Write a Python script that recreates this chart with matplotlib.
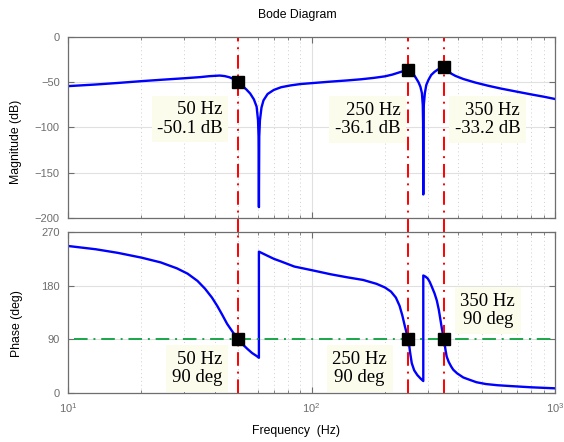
import matplotlib
matplotlib.use('Agg')
import matplotlib.pyplot as plt

plt.rcParams['font.family'] = ['Liberation Sans', 'DejaVu Sans']
plt.rcParams['mathtext.fontset'] = 'custom'
plt.rcParams['mathtext.rm'] = 'Liberation Sans'
plt.rcParams['mathtext.default'] = 'regular'

### magnitude curve
freq_mag = [10, 13, 16, 20, 25, 30, 35, 38, 42, 44, 46, 48, 50, 52, 54, 56, 58,
            59.5, 60.3, 60.6, 60.8, 61.0, 61.4, 62.3, 63.5, 66, 70, 75, 82, 90,
            100, 120, 140, 160, 180, 200, 215, 230, 240, 250, 256, 262, 268,
            275, 280, 284, 286.3, 287.2, 287.7, 288.2, 289.2, 292, 296, 302,
            310, 320, 330, 340, 350, 358, 366, 375, 390, 420, 470, 530, 600,
            700, 800, 900, 1000]
mag_db = [-54.3, -52.5, -50.8, -48.8, -47.0, -45.6, -44.3, -43.3, -42.6, -43.2,
          -44.5, -46.6, -50.1, -54, -58, -62.5, -69, -77, -92, -110, -188,
          -110, -92, -78, -70, -63, -58.5, -55.5, -53.5, -52, -51, -49.3,
          -48, -46.7, -45.2, -43.5, -41.5, -39, -37.5, -36.1, -38, -41, -45,
          -50, -55, -62, -75, -95, -174, -95, -75, -62, -53, -47.5, -42,
          -38.5, -36, -34.3, -33.2, -35, -38, -40.5, -43, -46.4, -50.3,
          -53.8, -57, -60.5, -63.5, -66, -68.5]

### phase curve
freq_ph = [10, 13, 16, 20, 24, 28, 31, 34, 36.5, 39, 41, 43, 45, 47.5, 50, 52,
           54.5, 57, 59.5, 60.8, 60.8, 63, 66, 70, 75, 85, 100, 120, 140, 163,
           185, 200, 212, 222, 230, 236, 242, 246, 250, 254, 258, 264, 272,
           280, 287.7, 287.7, 294, 300, 306, 312, 320, 327, 333, 338, 343,
           350, 355, 359, 366, 375, 382, 396, 420, 448, 476, 520, 580, 650,
           800, 1000]
phase_deg = [246.5, 241, 235, 227, 219, 209, 200, 188, 175, 160, 146, 131, 116,
             102, 90, 82, 74, 67, 62, 59, 237, 234, 230, 225, 220.5, 212, 206,
             199, 194, 189.5, 183, 177, 170, 160, 146, 130, 111, 100, 90, 68,
             50, 38, 30, 24.5, 20, 197, 195, 192, 186, 178, 167, 155, 140, 124,
             108, 90, 72, 61, 52, 44, 39, 33, 26, 21.8, 18, 15, 13, 11.7, 9.5,
             7.8]

### data tips
tip_freq = [50, 250, 350]
tip_mag = [-50.1, -36.1, -33.2]
tip_phase = [90, 90, 90]
mag_labels = ['50 Hz\n-50.1 dB', '250 Hz\n-36.1 dB', '350 Hz\n-33.2 dB']
phase_labels = ['50 Hz\n90 deg', '250 Hz\n90 deg', '350 Hz\n90 deg']
ref_phase = 90

fig = plt.figure(figsize=(5.64, 4.42), dpi=100)
ax1 = fig.add_axes([0.1206, 0.5068, 0.8635, 0.4095])
ax2 = fig.add_axes([0.1206, 0.1109, 0.8635, 0.3643])

tick_grey = '#6e6e6e'
dashdot = (0, (7, 3, 1, 3))

for ax in (ax1, ax2):
    ax.set_xscale('log')
    ax.set_xlim(10, 1000)
    ax.set_axisbelow(True)
    ax.grid(which='major', color='#e0e0e0', lw=0.8, ls='-')
    ax.grid(which='minor', axis='x', color='#cfcfcf', lw=0.7, ls=(0, (1, 3)))
    ax.tick_params(which='both', direction='in', top=True, right=True,
                   colors=tick_grey, labelsize=8, pad=6)
    ax.tick_params(which='major', length=4.5)
    ax.tick_params(which='minor', length=2.5)
    for s in ax.spines.values():
        s.set_color(tick_grey)
        s.set_linewidth(0.9)

### magnitude
ax1.plot(freq_mag, mag_db, color='blue', lw=1.7)
ax1.set_ylim(-200, 0)
ax1.set_yticks([0, -50, -100, -150, -200])
ax1.tick_params(axis='x', which='both', labelbottom=False)
gap = 14 / 181
for f in tip_freq:
    ax1.axvline(f, ymin=-gap, ymax=1, color='red', lw=1.4, ls=dashdot, clip_on=False)
ax1.plot(tip_freq, tip_mag, 'ks', ms=8.4, zorder=5)

### phase
ax2.plot(freq_ph, phase_deg, color='blue', lw=1.7)
ax2.axhline(ref_phase, xmin=0.012, color='#1aa64a', lw=1.4, ls=dashdot)
for f in tip_freq:
    ax2.axvline(f, color='red', lw=1.4, ls=dashdot)
ax2.plot(tip_freq, tip_phase, 'ks', ms=8.4, zorder=5)
ax2.set_ylim(0, 270)
ax2.set_yticks([0, 90, 180, 270])

### data tip boxes
box = dict(boxstyle='square,pad=0.3', fc='#fcfcec', ec='none')
serif = ['Liberation Serif', 'DejaVu Serif']
mag_pos = [(0.2505, 0.547), (0.615, 0.544), (0.861, 0.544)]
for (x, y), s in zip(mag_pos, mag_labels):
    ax1.text(x, y, s, transform=ax1.transAxes, ha='center', va='center',
             multialignment='right', fontsize=13.5, family=serif,
             linespacing=1.1, bbox=box, zorder=6)
ph_pos = [(0.265, 0.152), (0.5986, 0.152), (0.862, 0.512)]
ph_align = ['right', 'center', 'center']
for (x, y), s, a in zip(ph_pos, phase_labels, ph_align):
    ax2.text(x, y, s, transform=ax2.transAxes, ha='center', va='center',
             multialignment=a, fontsize=13.5, family=serif,
             linespacing=1.1, bbox=box, zorder=6)

### labels
fig.text(0.527, 0.966, 'Bode Diagram', ha='center', va='center', fontsize=8.8)
fig.text(0.525, 0.025, 'Frequency  (Hz)', ha='center', va='center', fontsize=8.8)
fig.text(0.029, 1 - 141.5 / 442, 'Magnitude (dB)', rotation=90,
         ha='center', va='center', fontsize=8.8)
fig.text(0.031, 1 - 323.5 / 442, 'Phase (deg)', rotation=90,
         ha='center', va='center', fontsize=8.8)

fig.savefig('out.png', dpi=100)
